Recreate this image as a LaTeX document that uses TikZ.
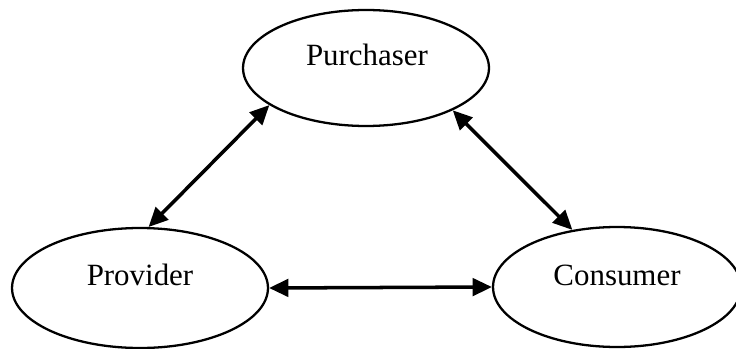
\documentclass[tikz,border=0pt]{standalone}
\usepackage{fontspec}
\setmainfont{Liberation Serif}
\usepackage{tikz}
\usetikzlibrary{arrows.meta,positioning,shapes,calc}

\begin{document}
\begin{tikzpicture}[x=0.02cm, y=-0.02cm,
    party/.style={draw, ellipse, line width=1.3pt, inner sep=0pt},
    lbl/.style={font=\fontsize{17.6}{20}\selectfont},
    link/.style={{Triangle[length=11pt,width=10pt]}-{Triangle[length=11pt,width=10pt]}, line width=2pt}]
        \useasboundingbox (0,0) rectangle (736,348);
        % Roles
        \node[party, minimum width=4.92cm, minimum height=2.32cm] (pur) at (366,68) {};
        \node[party, minimum width=5.12cm, minimum height=2.4cm] (prov) at (140,288) {};
        \node[party, minimum width=4.96cm, minimum height=2.4cm] (cons) at (617,287) {};
        \node[lbl] (purtxt) at (367,55) {Purchaser};
        \node[lbl] (provtxt) at (140,275) {Provider};
        \node[lbl] (constxt) at (617,275) {Consumer};
        % Relations
        \draw[link] (prov.82) -- (pur.201);
        \draw[link] (pur.334) -- (cons.128);
        \draw[link] (prov.east) -- (cons.west);
    \end{tikzpicture}
\end{document}
